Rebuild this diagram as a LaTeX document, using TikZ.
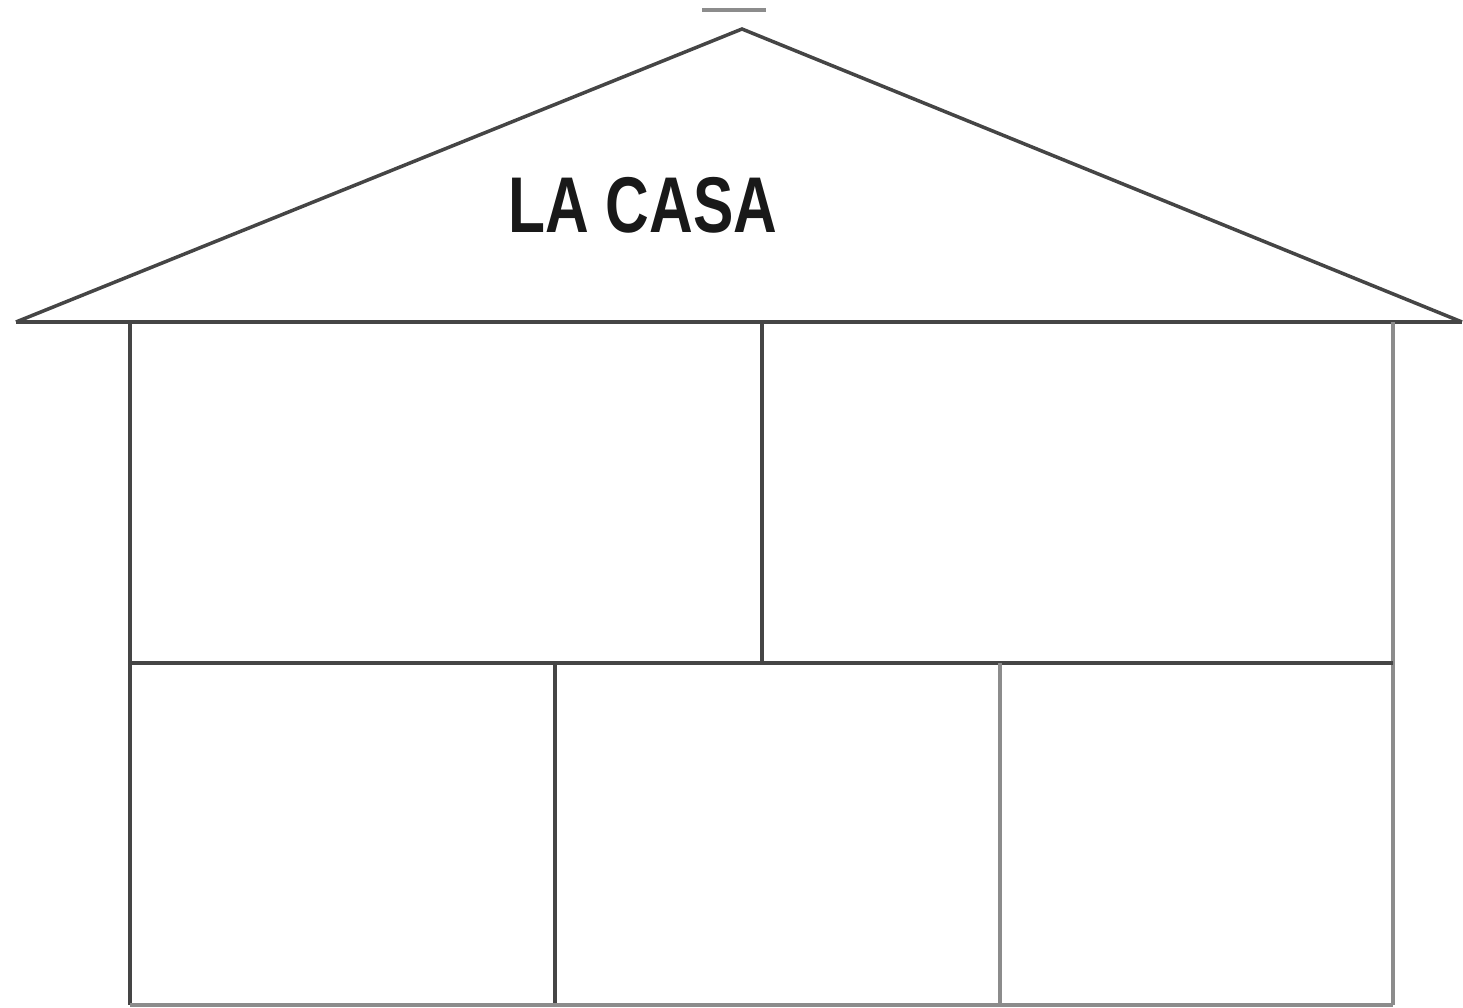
\documentclass[tikz,border=0pt]{standalone}
\usepackage{fontspec}
\newfontfamily\casafont{Liberation Sans}
\definecolor{wallgray}{gray}{0.27}
\definecolor{lightgray}{gray}{0.55}
\tikzset{
	wall/.style={draw=wallgray, line width=1pt},
	thinwall/.style={draw=lightgray, line width=1pt},
	title/.style={font=\casafont\bfseries\fontsize{22.5}{24}\selectfont, xscale=0.765, text=black!90, inner sep=0pt}
}

\begin{document}
\begin{tikzpicture}[x=1mm, y=-1mm]
	\useasboundingbox (0,0) rectangle (146.3,100.8);
	% roof
	\coordinate (apex) at (74.2,2.9);
	\coordinate (eaveL) at (1.6,32.2);
	\coordinate (eaveR) at (146.2,32.2);
	\draw[wall] (eaveL) -- (apex) -- (eaveR);
	\draw[wall] (eaveL) -- (eaveR);
	\draw[draw=lightgray, line width=1.1pt] (70.2,1.0) -- (76.6,1.0);
	\node[title] (casa) at (64.3,20.5) {LA CASA};
	% walls
	\draw[wall] (13,32.2) -- (13,100.5);
	\draw[thinwall] (139.3,32.2) -- (139.3,100.5);
	\draw[wall] (76.2,32.2) -- (76.2,66.3);
	\draw[wall] (13,66.3) -- (139.3,66.3);
	\draw[wall] (55.5,66.3) -- (55.5,100.5);
	\draw[thinwall] (100,66.3) -- (100,100.5);
	\draw[thinwall] (13,100.5) -- (139.3,100.5);
\end{tikzpicture}
\end{document}
